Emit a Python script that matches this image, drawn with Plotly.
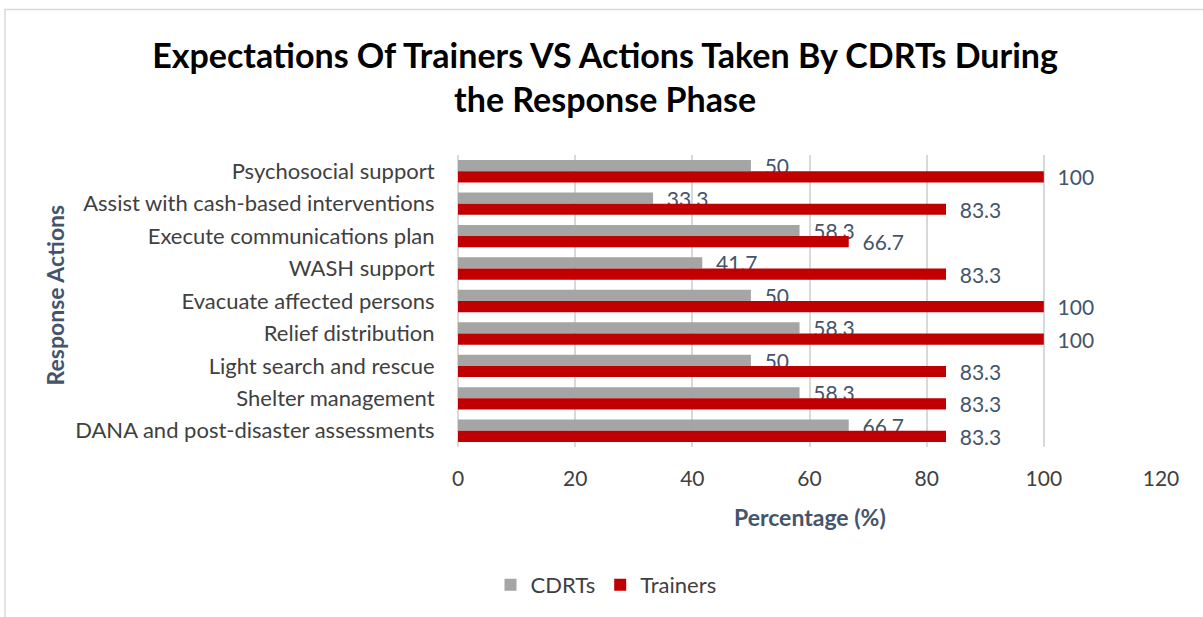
import plotly.graph_objects as go

categories = [
    "Psychosocial support",
    "Assist with cash-based interventions",
    "Execute communications plan",
    "WASH support",
    "Evacuate affected persons",
    "Relief distribution",
    "Light search and rescue",
    "Shelter management",
    "DANA and post-disaster assessments",
]
cdrts = [50, 33.3, 58.3, 41.7, 50, 58.3, 50, 58.3, 66.7]
trainers = [100, 83.3, 66.7, 83.3, 100, 100, 83.3, 83.3, 83.3]
x_ticks = [0, 20, 40, 60, 80, 100, 120]

FONT = "Lato"
LABEL_COLOR = "#44546A"
TEXT_COLOR = "#404040"

fig = go.Figure()
fig.add_trace(go.Bar(
    name="CDRTs", y=categories, x=cdrts, orientation="h",
    marker=dict(color="#A5A5A5", line=dict(width=0)),
    text=[f"\u00a0\u00a0{v:g}" for v in cdrts], textposition="outside",
    textfont=dict(family=FONT, size=21, color=LABEL_COLOR),
    constraintext="none", cliponaxis=False,
))
fig.add_trace(go.Bar(
    name="Trainers", y=categories, x=trainers, orientation="h",
    marker=dict(color="#C00000", line=dict(width=0)),
    text=[f"\u00a0\u00a0{v:g}" for v in trainers], textposition="outside",
    textfont=dict(family=FONT, size=21, color=LABEL_COLOR),
    constraintext="none", cliponaxis=False,
))

L, R, T, B = 458, 1161, 155, 448
W, H = 1203, 617
pw, ph = R - L, B - T

fig.update_layout(
    width=W, height=H,
    margin=dict(l=L, r=W - R, t=T, b=H - B, pad=0),
    paper_bgcolor="white", plot_bgcolor="white",
    barmode="group", bargap=0.31, bargroupgap=0,
    font=dict(family=FONT, color=TEXT_COLOR),
    title=dict(
        text="<b>Expectations Of Trainers VS Actions Taken By CDRTs During<br>the Response Phase</b>",
        x=0.503, xanchor="center", y=1 - 68 / H, yanchor="middle",
        font=dict(family=FONT, size=34, color="black"),
    ),
    xaxis=dict(
        range=[0, 120], tickvals=x_ticks, showgrid=True, gridcolor="#D9D9D9", gridwidth=1.5,
        zeroline=True, zerolinecolor="#D9D9D9", zerolinewidth=1.5,
        tickfont=dict(family=FONT, size=21, color=TEXT_COLOR),
        ticks="outside", ticklen=6, tickcolor="rgba(0,0,0,0)", ticklabelstandoff=7,
        showline=False,
    ),
    yaxis=dict(
        autorange="reversed", showgrid=False, zeroline=False, showline=False,
        tickfont=dict(family=FONT, size=22, color=TEXT_COLOR),
        ticks="outside", ticklen=10, tickcolor="rgba(0,0,0,0)", ticklabelstandoff=8,
    ),
    legend=dict(
        orientation="h", x=(606 - L) / pw, xanchor="center",
        y=-(585 - B) / ph, yanchor="middle",
        font=dict(family=FONT, size=22, color=TEXT_COLOR),
        itemsizing="constant", itemwidth=30,
    ),
    showlegend=True,
    annotations=[
        dict(text="<b>Percentage (%)</b>", xref="paper", yref="paper",
             x=(810 - L) / pw, y=-(518 - B) / ph, xanchor="center", yanchor="middle",
             showarrow=False, font=dict(family=FONT, size=23, color=LABEL_COLOR)),
        dict(text="<b>Response Actions</b>", xref="paper", yref="paper",
             x=(55 - L) / pw, y=(B - 296) / ph, xanchor="center", yanchor="middle",
             textangle=-90, showarrow=False,
             font=dict(family=FONT, size=23, color=LABEL_COLOR)),
    ],
    shapes=[
        dict(type="rect", xref="paper", yref="paper",
             x0=(5 - L) / pw, x1=(W + 5 - L) / pw,
             y0=-(H + 10 - B) / ph, y1=(B - 9) / ph,
             line=dict(color="#D9D9D9", width=1.5), fillcolor="rgba(0,0,0,0)", layer="below"),
    ],
)

fig.write_html(
    "out.html",
    config={"displayModeBar": False},
    post_script="document.body.style.margin='0';document.body.style.overflow='hidden';",
)
